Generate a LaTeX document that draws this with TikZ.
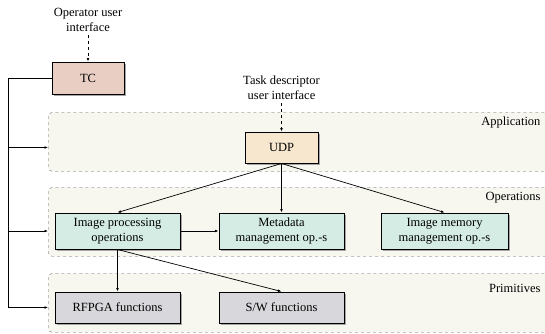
\documentclass[tikz,border=0pt]{standalone}
\usepackage{fontspec}
\setmainfont{Liberation Serif}
\usetikzlibrary{shadows,arrows.meta}

\definecolor{tcfill}{RGB}{233,206,196}
\definecolor{udpfill}{RGB}{246,231,206}
\definecolor{opfill}{RGB}{212,236,228}
\definecolor{primfill}{RGB}{216,216,220}
\definecolor{layerfill}{RGB}{247,247,240}
\definecolor{layerline}{RGB}{165,165,165}

\begin{document}
\begin{tikzpicture}[x=1pt,y=-1pt,
    font=\fontsize{12.5}{15}\selectfont,
    >={Latex[length=3.5pt,width=2.8pt]},
    box/.style={draw, line width=1pt, align=center, minimum width=125pt, minimum height=31pt,
      drop shadow={shadow xshift=2pt, shadow yshift=-2pt, fill=black!35, opacity=1}},
    layer/.style={draw=layerline, dashed, line width=0.7pt, fill=layerfill, rounded corners=4pt, anchor=north west},
    conn/.style={->, line width=0.7pt}]
  \useasboundingbox (0,0) rectangle (545,333);

  \node[layer, minimum width=512pt, minimum height=59pt] (app) at (48,112) {};
  \node[layer, minimum width=512pt, minimum height=69pt] (ops) at (48,187) {};
  \node[layer, minimum width=512pt, minimum height=59pt] (prim) at (48,273) {};
  \node[anchor=east] (applbl) at (544,122) {Application};
  \node[anchor=east] (opslbl) at (544,198) {Operations};
  \node[anchor=east] (primlbl) at (544,288) {Primitives};

  \node (opui) at (88,19.5) [align=center] {Operator user\\interface};
  \node (taskui) at (281.5,87.5) [align=center] {Task descriptor\\user interface};
  \node[box, fill=tcfill, minimum width=72pt, minimum height=32pt] (tc) at (88,78) {TC};
  \node[box, fill=udpfill, minimum width=73pt] (udp) at (281.5,147.5) {UDP};
  \node[box, fill=opfill, minimum height=36pt] (imgproc) at (117.5,231) {Image processing\\operations};
  \node[box, fill=opfill, minimum height=36pt] (meta) at (281.5,231) {Metadata\\management op.-s};
  \node[box, fill=opfill, minimum width=127pt, minimum height=36pt] (imgmem) at (444.5,231) {Image memory\\management op.-s};
  \node[box, fill=primfill] (rfpga) at (117.5,307.5) {RFPGA functions};
  \node[box, fill=primfill] (sw) at (281.5,307.5) {S/W functions};

  \draw[conn, dashed] (opui) -- (tc);
  \draw[conn, dashed] (taskui) -- (udp);
  \draw[conn] (udp.south) -- (imgproc.north);
  \draw[conn] (udp.south) -- (meta.north);
  \draw[conn] (udp.south) -- (imgmem.north);
  \draw[conn] (imgproc) -- (meta);
  \draw[conn] (imgproc.south) -- (rfpga.north);
  \draw[conn] (imgproc.south) -- (sw.north);

  \coordinate (bus) at (8,0);
  \draw[conn] (tc.west) -| (bus |- rfpga) -- (rfpga -| prim.west);
  \draw[conn] (bus |- udp) -- (udp -| app.west);
  \draw[conn] (bus |- imgproc) -- (imgproc -| ops.west);
\end{tikzpicture}
\end{document}
